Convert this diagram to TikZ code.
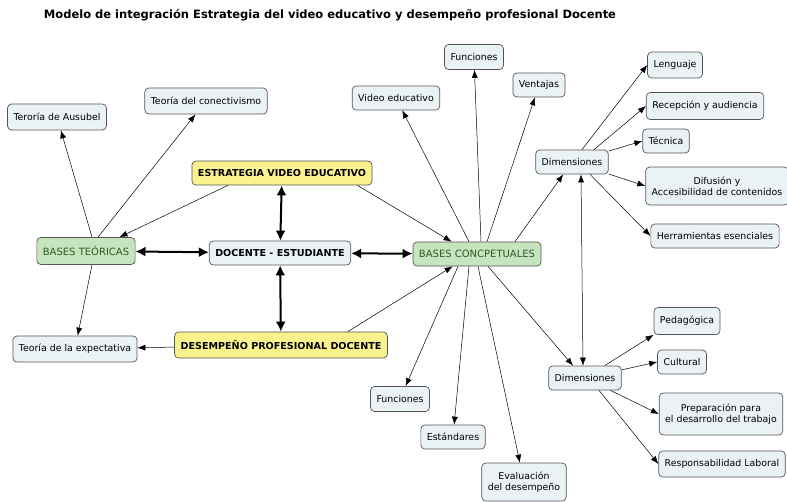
\documentclass[tikz,border=0pt]{standalone}
\usepackage{fontspec}
\setmainfont{DejaVu Sans}
\usepackage{tikz}
\usetikzlibrary{arrows.meta}

\definecolor{cmblue}{HTML}{EAF2F6}
\definecolor{cmgreen}{HTML}{C6E4BD}
\definecolor{cmgreentext}{HTML}{2E5A2C}
\definecolor{cmyellow}{HTML}{FAF28C}
\definecolor{cmborder}{HTML}{555555}

\tikzset{
  concept/.style={draw=cmborder, fill=cmblue, rounded corners=4pt, line width=0.7pt,
    font=\fontsize{9.4}{11}\selectfont, minimum height=24pt, inner xsep=6pt, align=center},
  basebox/.style={concept, fill=cmgreen, text=cmgreentext, font=\fontsize{10}{12}\selectfont},
  keybox/.style={concept, fill=cmyellow, font=\fontsize{9.6}{11}\selectfont\bfseries},
  link/.style={-{Latex[length=8pt,width=6pt]}, line width=0.5pt},
  biglink/.style={{Latex[length=10pt,width=10pt]}-{Latex[length=10pt,width=10pt]}, line width=2pt},
}

\begin{document}
\begin{tikzpicture}[x=1pt, y=-1pt]
\useasboundingbox (0,0) rectangle (787,503);
\node [font=\fontsize{11.5}{13}\selectfont\bfseries] (title) at (330,15)
  {Modelo de integración Estrategia del video educativo y desempeño profesional Docente};

% centro del mapa
\node [keybox] (estrategia) at (282,173) {ESTRATEGIA VIDEO EDUCATIVO};
\node [concept, font=\fontsize{9.6}{11}\selectfont\bfseries] (docente) at (280,253) {DOCENTE - ESTUDIANTE};
\node [keybox, minimum height=26pt] (desempeno) at (281,345) {DESEMPEÑO PROFESIONAL DOCENTE};
\node [basebox, minimum height=27pt] (teoricas) at (86,251) {BASES TEÓRICAS};
\node [basebox] (conceptuales) at (477,254) {BASES CONCPETUALES};

% lado izquierdo
\node [concept, minimum height=26pt] (ausubel) at (57,117) {Teroría de Ausubel};
\node [concept, minimum height=26pt] (conectivismo) at (206,101) {Teoría del conectivismo};
\node [concept, minimum height=26pt] (expectativa) at (75,349) {Teoría de la expectativa};

% bases conceptuales
\node [concept] (video) at (396,98) {Video educativo};
\node [concept, minimum height=25pt] (funcarriba) at (474,57) {Funciones};
\node [concept] (ventajas) at (539,85) {Ventajas};
\node [concept] (dimarriba) at (572,162) {Dimensiones};
\node [concept, minimum height=25pt] (funcabajo) at (400,399) {Funciones};
\node [concept] (estandares) at (453,437) {Estándares};
\node [concept, minimum height=38pt] (evaluacion) at (524,482) {Evaluación\\del desempeño};
\node [concept] (dimabajo) at (585,378) {Dimensiones};

% dimensiones de arriba
\node [concept, minimum height=26pt] (lenguaje) at (675,65) {Lenguaje};
\node [concept, minimum height=27pt] (recepcion) at (705,106) {Recepción y audiencia};
\node [concept] (tecnica) at (666,141) {Técnica};
\node [concept, minimum height=38pt] (difusion) at (717,186) {Difusión y\\Accesibilidad de contenidos};
\node [concept] (herramientas) at (715,236) {Herramientas esenciales};

% dimensiones de abajo
\node [concept, minimum height=27pt] (pedagogica) at (687,321) {Pedagógica};
\node [concept] (cultural) at (682,362) {Cultural};
\node [concept, minimum height=42pt] (preparacion) at (721,414) {Preparación para\\el desarrollo del trabajo};
\node [concept, minimum height=26pt] (responsabilidad) at (722,464) {Responsabilidad Laboral};

% flechas gruesas
\draw [biglink] (teoricas) -- (docente);
\draw [biglink] (docente) -- (conceptuales);
\draw [biglink] (docente) -- (estrategia);
\draw [biglink] (docente) -- (desempeno);

% flechas finas
\draw [link] ([xshift=6pt]teoricas.north) -- (ausubel);
\draw [link] ([xshift=12pt]teoricas.north) -- (conectivismo);
\draw [link] ([xshift=-54pt]estrategia.south) -- ([xshift=-16pt]teoricas.north east);
\draw [link] ([xshift=6pt]teoricas.south) -- (expectativa);
\draw [link] (desempeno) -- (expectativa);
\draw [link] ([xshift=-15pt]estrategia.south east) -- ([xshift=39pt]conceptuales.north west);
\draw [link] ([xshift=-40pt]desempeno.north east) -- ([xshift=40pt]conceptuales.south west);

\draw [link] ([xshift=-8pt]conceptuales.north) -- (video);
\draw [link] ([xshift=4pt]conceptuales.north) -- (funcarriba);
\draw [link] ([xshift=10pt]conceptuales.north) -- (ventajas);
\draw [link] ([xshift=38pt]conceptuales.north) -- (dimarriba);
\draw [link] ([xshift=-19pt]conceptuales.south) -- (funcabajo);
\draw [link] ([xshift=-8pt]conceptuales.south) -- (estandares);
\draw [link] ([xshift=1pt]conceptuales.south) -- (evaluacion);
\draw [link] ([xshift=11pt]conceptuales.south) -- ([xshift=-12pt]dimabajo.north);
\draw [{Latex[length=8pt,width=6pt]}-{Latex[length=8pt,width=6pt]}, line width=0.5pt]
  ([xshift=9pt]dimarriba.south) -- ([xshift=-2pt]dimabajo.north);

\draw [link] ([xshift=10pt]dimarriba.north) -- (lenguaje.west);
\draw [link] ([xshift=22pt]dimarriba.north) -- (recepcion.west);
\draw [link] (dimarriba) -- (tecnica.west);
\draw [link] (dimarriba) -- (difusion.west);
\draw [link] ([xshift=18pt]dimarriba.south) -- (herramientas.west);

\draw [link] (dimabajo) -- (pedagogica.south west);
\draw [link] (dimabajo) -- (cultural.west);
\draw [link] (dimabajo) -- (preparacion.west);
\draw [link] ([xshift=14pt]dimabajo.south) -- (responsabilidad.west);
\end{tikzpicture}
\end{document}
